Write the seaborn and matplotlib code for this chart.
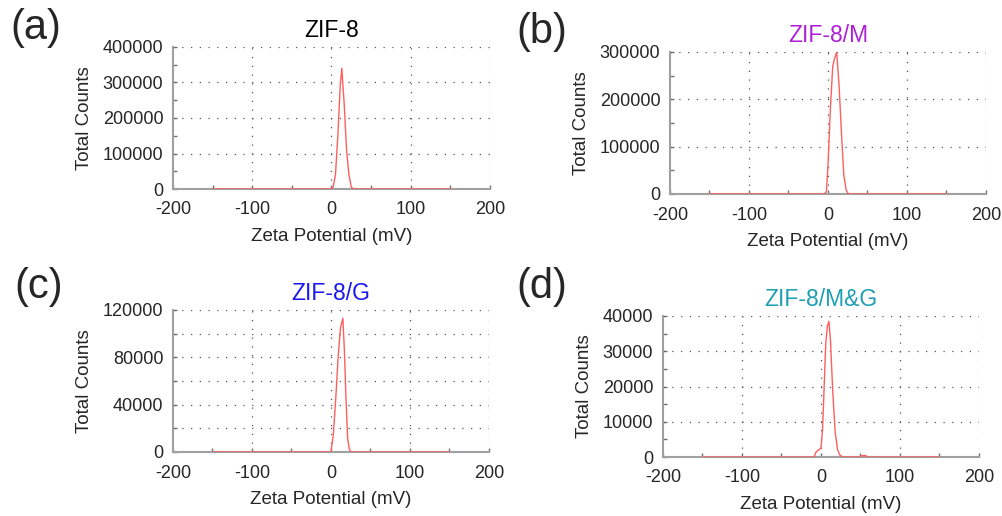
import numpy as np
import pandas as pd
import matplotlib
matplotlib.use("Agg")
import matplotlib.pyplot as plt
import matplotlib.ticker as ticker
import seaborn as sns

# zeta potential distributions (mV, total counts)
zif8_x = [-150, 0, 2, 5, 8, 11, 13, 16, 19, 22, 25, 28, 150]
zif8_y = [0, 0, 5000, 40000, 150000, 290000, 340000, 240000, 110000, 40000, 5000, 0, 0]

zif8m_x = [-150, -5, -2, 0, 3, 6, 8, 11, 14, 17, 20, 23, 26, 150]
zif8m_y = [0, 0, 5000, 60000, 180000, 270000, 285000, 300000, 230000, 130000, 40000, 8000, 0, 0]

zif8g_x = [-150, 0, 3, 6, 9, 12, 15, 17, 19, 21, 23, 25, 150]
zif8g_y = [0, 0, 15000, 45000, 80000, 105000, 113000, 85000, 45000, 12000, 3000, 0, 0]

zif8mg_x = [-150, -9, -6, -3, 0, 2, 4, 6, 8, 10, 12, 15, 18, 21, 24, 28, 48, 52, 56, 60, 150]
zif8mg_y = [0, 0, 1500, 2000, 2500, 8000, 20000, 32000, 37000, 38500, 33000, 18000, 7000, 2000, 500, 0, 0, 400, 400, 0, 0]

titles = ["ZIF-8", "ZIF-8/M", "ZIF-8/G", "ZIF-8/M&G"]
title_colors = ["black", "#b020d8", "#1818f0", "#1ea0b4"]
letters = ["(a)", "(b)", "(c)", "(d)"]
y_max = [400000, 300000, 120000, 40000]
y_major = [100000, 100000, 40000, 10000]
y_grid = [100000, 100000, 20000, 10000]
y_minor = [50000, 50000, 20000, 5000]

series = [(zif8_x, zif8_y), (zif8m_x, zif8m_y), (zif8g_x, zif8g_y), (zif8mg_x, zif8mg_y)]

sns.set_style("ticks")
plt.rcParams['font.family'] = ['Liberation Sans', 'DejaVu Sans']
plt.rcParams['axes.unicode_minus'] = False

fig = plt.figure(figsize=(10.03, 5.16), dpi=100)
W, H = 1003, 516
# axes boxes in pixels: left, top, right, bottom
boxes = [(173, 47, 490, 189), (670, 52, 986, 194), (173, 310, 489, 452), (663, 316, 979, 457)]
letter_pos = [(10, 28), (516, 32), (14, 287), (516, 287)]

for i in range(4):
    l, t, r, b = boxes[i]
    ax = fig.add_axes([l / W, 1 - b / H, (r - l) / W, (b - t) / H])
    df = pd.DataFrame({"x": series[i][0], "y": series[i][1]})
    sns.lineplot(data=df, x="x", y="y", ax=ax, color="#ff5e5e", lw=1.0, zorder=3)
    ax.set_xlim(-200, 200)
    ax.set_ylim(0, y_max[i])
    ax.xaxis.set_major_locator(ticker.MultipleLocator(100))
    ax.xaxis.set_minor_locator(ticker.MultipleLocator(50))
    ax.yaxis.set_major_locator(ticker.MultipleLocator(y_major[i]))
    ax.yaxis.set_minor_locator(ticker.MultipleLocator(y_minor[i]))
    ax.yaxis.set_major_formatter(ticker.FormatStrFormatter('%d'))
    # dotted grid
    for xv in [-100, 0, 100, 200]:
        ax.axvline(xv, color="#555555", lw=0.9, ls=(0, (1, 6)), zorder=1)
    for yv in np.arange(y_grid[i], y_max[i] + 1, y_grid[i]):
        ax.axhline(yv, color="#555555", lw=0.9, ls=(0, (1, 6)), zorder=1)
    for s in ["top", "right"]:
        ax.spines[s].set_visible(False)
    for s in ["left", "bottom"]:
        ax.spines[s].set_color("#a0a0a0")
        ax.spines[s].set_linewidth(1.5)
    ax.tick_params(which='both', direction='in', color="#707070", length=3, width=1)
    ax.tick_params(axis='x', which='major', labelsize=13, pad=9)
    ax.tick_params(axis='y', which='major', labelsize=13, pad=7)
    ax.set_xlabel("Zeta Potential (mV)", fontsize=13.5, labelpad=7)
    ax.set_ylabel("Total Counts", fontsize=13.5, labelpad=7)
    ax.set_title(titles[i], color=title_colors[i], fontsize=16.5, pad=7)
    fig.text(letter_pos[i][0] / W, 1 - letter_pos[i][1] / H, letters[i],
             fontsize=30, va='center', ha='left')

fig.savefig("out.png", dpi=100)
